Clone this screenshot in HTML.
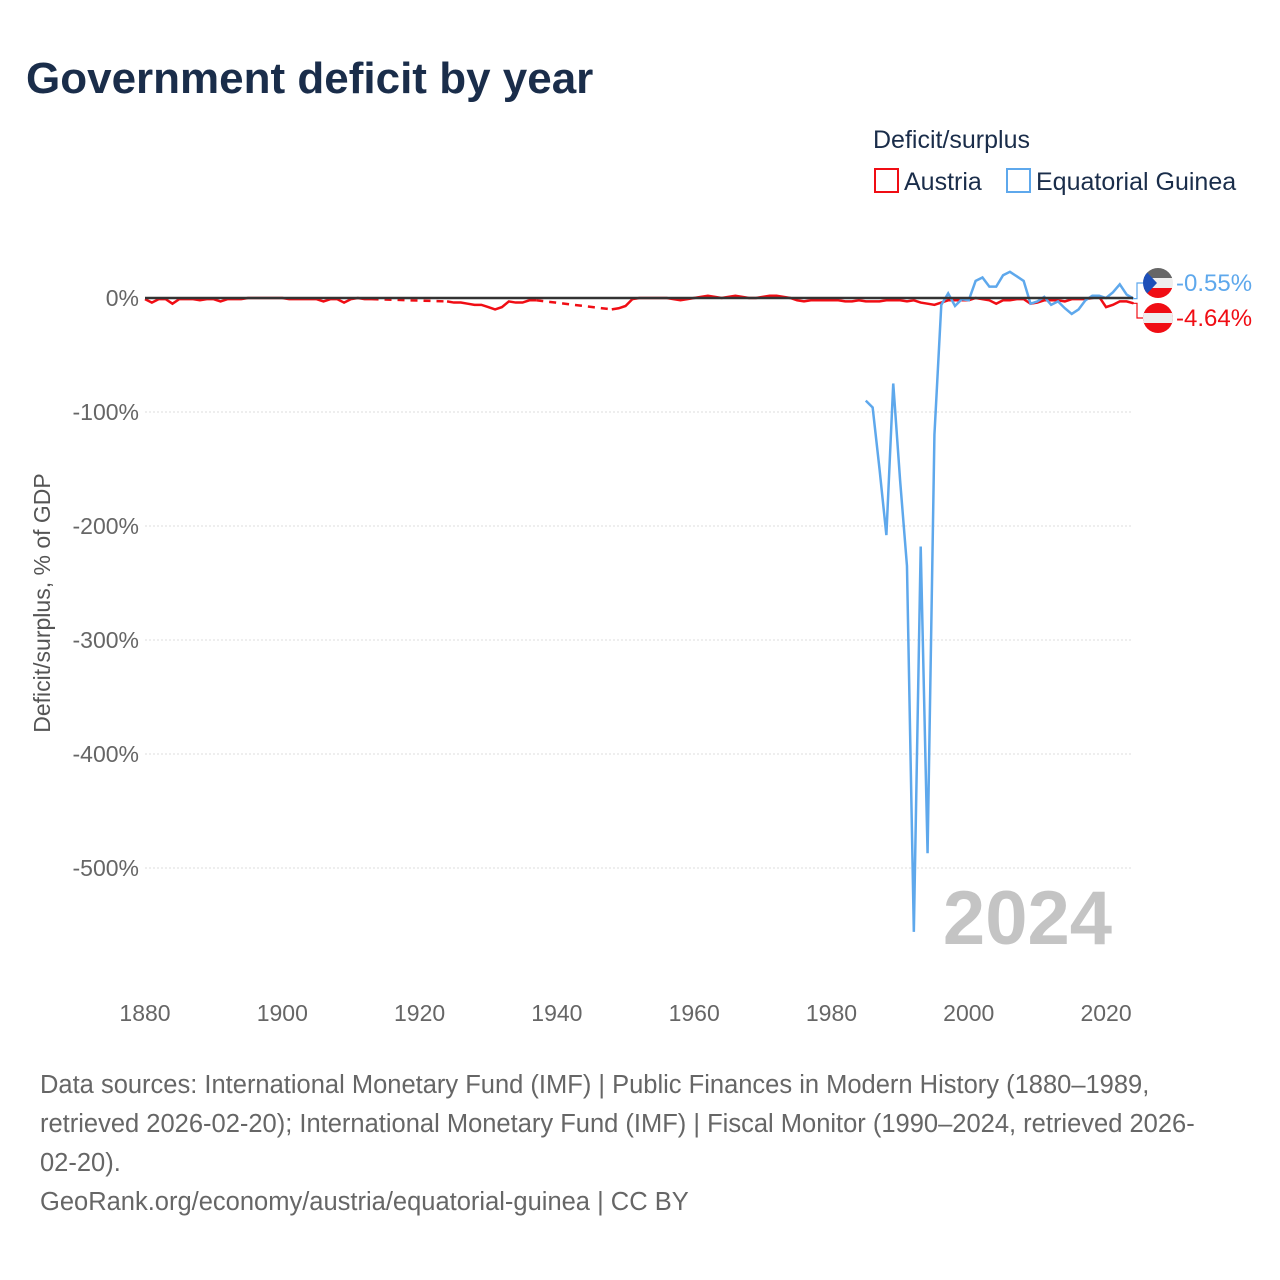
<!DOCTYPE html>
<html><head><meta charset="utf-8"><style>
body{margin:0;background:#fff;font-family:"Liberation Sans",sans-serif;}
#wrap{position:relative;width:1280px;height:1280px;overflow:hidden;}
</style></head><body>
<div id="wrap">
<svg id="chart" width="1280" height="1280">
<text x="26" y="93" font-size="44" font-weight="bold" fill="#1a2d4a">Government deficit by year</text>
<text x="873" y="148" font-size="25" fill="#1a2d4a">Deficit/surplus</text>
<g><rect x="875" y="169" width="23" height="23" fill="none" stroke="#f00d14" stroke-width="2"/><text x="904" y="190" font-size="25" fill="#1a2d4a">Austria</text></g>
<g><rect x="1007" y="169" width="23" height="23" fill="none" stroke="#5ea8ec" stroke-width="2"/><text x="1036" y="190" font-size="25" fill="#1a2d4a">Equatorial Guinea</text></g>
<text transform="translate(50,603) rotate(-90)" text-anchor="middle" font-size="23" fill="#555">Deficit/surplus, % of GDP</text>
<g id="grid"></g><g id="series"></g>
<text x="1112" y="944" text-anchor="end" font-size="76" font-weight="bold" fill="#c4c4c4">2024</text>
<g font-size="25.5" fill="#666">
<text x="40" y="1093">Data sources: International Monetary Fund (IMF) | Public Finances in Modern History (1880–1989,</text>
<text x="40" y="1132">retrieved 2026-02-20); International Monetary Fund (IMF) | Fiscal Monitor (1990–2024, retrieved 2026-</text>
<text x="40" y="1171">02-20).</text>
<text x="40" y="1210">GeoRank.org/economy/austria/equatorial-guinea | CC BY</text>
</g>
</svg></div>
<script>
const yTicks=[0,-100,-200,-300,-400,-500];
const yTickLabels=["0%","-100%","-200%","-300%","-400%","-500%"];
const xTicks=[1880,1900,1920,1940,1960,1980,2000,2020];
const austriaA1=[-1,-4,-1,-1,-5,-1,-1,-1,-2,-1,-1,-3,-1,-1,-1,0,0,0,0,0,0,-1,-1,-1,-1,-1,-3,-1,-1,-4,-1,0,-1,-1];
const austriaA2=[-3,-4,-4,-5,-6,-6,-8,-10,-8,-3,-4,-4,-2,-2];
const austriaA3=[-10,-9,-7,-1,0,0,0,0,0,-1,-2,-1,0,1,2,1,0,1,2,1,0,0,1,2,2,1,0,-2,-3,-2,-2,-2,-2,-2,-3,-3,-2,-3,-3,-3,-2,-2,-2,-3,-2,-4,-5,-6,-4,-2,-2,-2,-2,0,-1,-2,-5,-2,-2,-1,-1,-5,-4,-2,-2,-2,-3,-1,-1,-1,0,1,-8,-6,-3,-3,-4.64];
const austriaStarts=[1880,1924,1948];
const egValues=[-90,-96,-150,-208,-75,-160,-235,-556,-218,-487,-120,-6,4,-7,-1,-2,15,18,10,10,20,23,19,15,-5,-3,1,-6,-3,-9,-14,-10,-2,2,2,0,5,12,3,-0.55];
const egStart=1985;
const X=y=>145+(y-1880)*(1133.5-145)/144;
const Y=v=>298-v*1.14;
const NS="http://www.w3.org/2000/svg";
function mk(t,a,p){const e=document.createElementNS(NS,t);for(const k in a)e.setAttribute(k,a[k]);p.appendChild(e);return e;}
const grid=document.getElementById('grid'),ser=document.getElementById('series');
yTicks.forEach((v,i)=>{
 if(v!==0){const l=mk('line',{x1:145,x2:1133,y1:Y(v),y2:Y(v),stroke:'#ddd','stroke-dasharray':'2,2'},grid);
 }
 const t=mk('text',{x:139,y:Y(v)+8,'text-anchor':'end','font-size':23,fill:'#666'},grid);t.textContent=yTickLabels[i];
 
});
xTicks.forEach(y=>{const t=mk('text',{x:X(y),y:1021,'text-anchor':'middle','font-size':23,fill:'#666'},grid);t.textContent=y;
 });
const segs=[austriaA1,austriaA2,austriaA3];
const pts=(s,arr)=>arr.map((v,i)=>X(s+i)+','+Y(v)).join(' ');
for(let k=0;k<2;k++){const a=segs[k],b=segs[k+1];const ys=austriaStarts[k]+a.length-1;
 const d=mk('line',{x1:X(ys),y1:Y(a[a.length-1]),x2:X(austriaStarts[k+1]),y2:Y(b[0]),stroke:'#f00d14','stroke-width':2.5,'stroke-dasharray':'7,6'},ser);
 }
segs.forEach((s,k)=>{const p=mk('polyline',{points:pts(austriaStarts[k],s),fill:'none',stroke:'#f00d14','stroke-width':2.5},ser);
 });
const eg=mk('polyline',{points:pts(egStart,egValues),fill:'none',stroke:'#5ea8ec','stroke-width':2.5},ser);

const z=mk('line',{x1:145,x2:1133,y1:Y(0),y2:Y(0),stroke:'#333','stroke-width':2.5},ser);

const aLast=austriaA3[austriaA3.length-1],eLast=egValues[egValues.length-1];
const lab=[[eLast,283,'#5ea8ec','eg'],[aLast,318,'#f00d14','at']];
lab.forEach(([v,ly,c,n])=>{
 const con=mk('polyline',{points:`1133,${Y(v)} 1137,${Y(v)} 1137,${ly} 1143,${ly}`,fill:'none',stroke:c,'stroke-width':1.2},ser);
 
 const g=mk('g',{},ser);
 const cp=mk('clipPath',{id:'c'+n},g);mk('circle',{cx:1158,cy:ly,r:15},cp);
 const gg=mk('g',{'clip-path':'url(#c'+n+')'},g);
 if(n==='at'){mk('rect',{x:1143,y:ly-15,width:30,height:30,fill:'#f00d14'},gg);mk('rect',{x:1143,y:ly-5,width:30,height:10,fill:'#eee'},gg);}
 else{mk('rect',{x:1143,y:ly-15,width:30,height:10,fill:'#666'},gg);mk('rect',{x:1143,y:ly-5,width:30,height:10,fill:'#eee'},gg);
 mk('rect',{x:1143,y:ly+5,width:30,height:10,fill:'#f00d14'},gg);mk('polygon',{points:`1143,${ly-15} 1157,${ly} 1143,${ly+15}`,fill:'#1d4fb8'},gg);}
 const t=mk('text',{x:1176,y:ly+8,'font-size':24,fill:c},ser);t.textContent=(Math.round(v*100)/100).toFixed(2)+'%';
 
});
</script>
</body></html>
